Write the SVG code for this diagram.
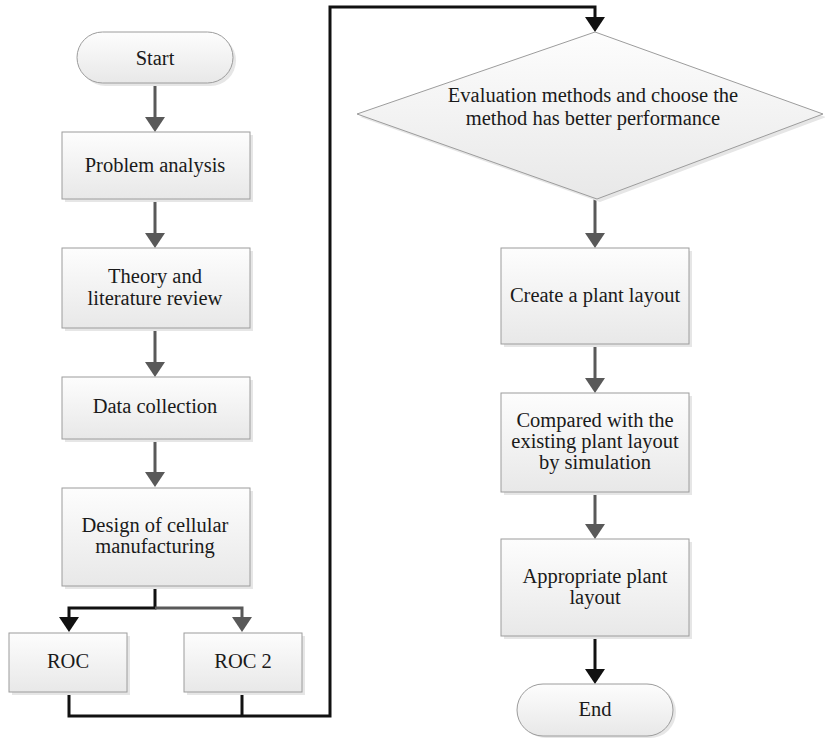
<svg xmlns="http://www.w3.org/2000/svg" width="825" height="738" viewBox="0 0 825 738">
<style>
.box{fill:url(#g);stroke:#9c9c9c;stroke-width:1}
.sh{fill:#e6e6e6}
.cg{fill:none;stroke:#595959;stroke-width:3}
.cb{fill:none;stroke:#111;stroke-width:3}
</style>
<defs>
<linearGradient id="g" x1="0" y1="0" x2="0" y2="1">
<stop offset="0" stop-color="#fdfdfd"/>
<stop offset="1" stop-color="#e8e8e8"/>
</linearGradient>
<marker id="ag" viewBox="0 0 15 20" refX="0" refY="10" markerWidth="15" markerHeight="20" orient="auto" markerUnits="userSpaceOnUse">
<path d="M0,0 L15,10 L0,20 z" fill="#595959"/>
</marker>
<marker id="ab" viewBox="0 0 15 20" refX="0" refY="10" markerWidth="15" markerHeight="20" orient="auto" markerUnits="userSpaceOnUse">
<path d="M0,0 L15,10 L0,20 z" fill="#111"/>
</marker>
</defs>
<rect width="825" height="738" fill="#fff"/>

<g id="connectors">
<path class="cg" d="M155,83 V117" marker-end="url(#ag)"/>
<path class="cg" d="M155,199 V233" marker-end="url(#ag)"/>
<path class="cg" d="M155,328 V362" marker-end="url(#ag)"/>
<path class="cg" d="M155,439 V472" marker-end="url(#ag)"/>
<path class="cb" d="M155,586 V608 H69 V617" marker-end="url(#ab)"/>
<path class="cg" d="M155,608 H242 V617" marker-end="url(#ag)"/>
<path class="cb" d="M69,692 V716 H330 V7 H595 V17" marker-end="url(#ab)"/>
<path class="cb" d="M242,692 V716"/>
<path class="cg" d="M595,199 V233" marker-end="url(#ag)"/>
<path class="cg" d="M595,344 V378" marker-end="url(#ag)"/>
<path class="cg" d="M595,492 V524" marker-end="url(#ag)"/>
<path class="cb" d="M595,636 V669" marker-end="url(#ab)"/>
</g>

<g font-family="Liberation Serif, Times New Roman, DejaVu Serif, serif" font-size="20.5" fill="#1a1a1a" text-anchor="middle">
<g id="start">
<rect class="sh" x="80" y="35" width="156" height="51" rx="25.5"/>
<rect class="box" x="77" y="32" width="156" height="51" rx="25.5"/>
<text x="155" y="65">Start</text>
</g>
<g id="problem">
<rect class="sh" x="65" y="135" width="188" height="67"/>
<rect class="box" x="62" y="132" width="188" height="67"/>
<text x="155" y="172">Problem analysis</text>
</g>
<g id="theory">
<rect class="sh" x="65" y="251" width="188" height="80"/>
<rect class="box" x="62" y="248" width="188" height="80"/>
<text x="155" y="283">Theory and</text>
<text x="155" y="305">literature review</text>
</g>
<g id="data">
<rect class="sh" x="65" y="380" width="188" height="62"/>
<rect class="box" x="62" y="377" width="188" height="62"/>
<text x="155" y="413">Data collection</text>
</g>
<g id="design">
<rect class="sh" x="65" y="491" width="188" height="98"/>
<rect class="box" x="62" y="488" width="188" height="98"/>
<text x="155" y="532">Design of cellular</text>
<text x="155" y="553">manufacturing</text>
</g>
<g id="roc">
<rect class="sh" x="12" y="636" width="118" height="59"/>
<rect class="box" x="9" y="633" width="118" height="59"/>
<text x="68" y="668">ROC</text>
</g>
<g id="roc2">
<rect class="sh" x="187" y="636" width="118" height="59"/>
<rect class="box" x="184" y="633" width="118" height="59"/>
<text x="243" y="668">ROC 2</text>
</g>
<g id="evaluate">
<polygon class="sh" points="598,35 826,117 600,202 360,117"/>
<polygon class="box" points="595,32 823,114 597,199 357,114"/>
<text x="593" y="102">Evaluation methods and choose the</text>
<text x="593" y="125">method has better performance</text>
</g>
<g id="create">
<rect class="sh" x="504" y="251" width="188" height="96"/>
<rect class="box" x="501" y="248" width="188" height="96"/>
<text x="595" y="302">Create a plant layout</text>
</g>
<g id="compare">
<rect class="sh" x="504" y="396" width="188" height="99"/>
<rect class="box" x="501" y="393" width="188" height="99"/>
<text x="595" y="427">Compared with the</text>
<text x="595" y="448">existing plant layout</text>
<text x="595" y="469">by simulation</text>
</g>
<g id="appropriate">
<rect class="sh" x="504" y="542" width="188" height="97"/>
<rect class="box" x="501" y="539" width="188" height="97"/>
<text x="595" y="583">Appropriate plant</text>
<text x="595" y="604">layout</text>
</g>
<g id="end">
<rect class="sh" x="520" y="686" width="156" height="52" rx="26"/>
<rect class="box" x="517" y="684" width="156" height="52" rx="26"/>
<text x="595" y="716">End</text>
</g>
</g>
</svg>
